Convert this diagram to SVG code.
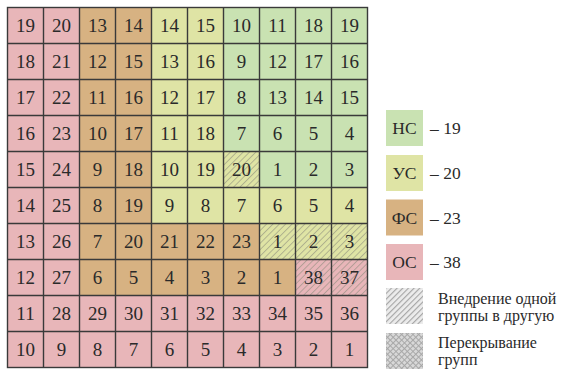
<svg xmlns="http://www.w3.org/2000/svg" width="570" height="369" viewBox="0 0 570 369">
<defs>
<style>
.o{fill:#e8b6b9}.f{fill:#d7b282}.u{fill:#dfe4a5}.n{fill:#c9e2b2}
.h{fill:url(#hatch)}
text{fill:#2a2a2a}
.c text{font-size:19px;text-anchor:middle}
.lg{font-size:17.5px}
.lc{text-anchor:middle}
.ld{font-size:16px}
</style>
<pattern id="hatch" width="4.5" height="4.5" patternUnits="userSpaceOnUse" patternTransform="rotate(45)">
<line x1="0.5" y1="0" x2="0.5" y2="4.5" stroke="#8a8a7a" stroke-width="0.8" stroke-opacity="0.7"/>
</pattern>
<pattern id="hatchL" width="4" height="4" patternUnits="userSpaceOnUse" patternTransform="rotate(45)">
<line x1="0.5" y1="0" x2="0.5" y2="4" stroke="#a5a5a5" stroke-width="1.3"/>
</pattern>
<pattern id="cross" width="4" height="4" patternUnits="userSpaceOnUse" patternTransform="rotate(45)">
<rect width="4" height="4" fill="#d8d8d8"/>
<line x1="0.5" y1="0" x2="0.5" y2="4" stroke="#a8a8a8" stroke-width="1"/>
<line x1="0" y1="0.5" x2="4" y2="0.5" stroke="#a8a8a8" stroke-width="1"/>
</pattern>
</defs>
<rect width="570" height="369" fill="#ffffff"/>
<g font-family="Liberation Serif, Times New Roman, Tinos, Noto Serif, DejaVu Serif, FreeSerif, serif">
<g class="c">
<g id="r0"><rect class="o" x="7.5" y="7.5" width="72" height="36"/><rect class="f" x="79.5" y="7.5" width="72" height="36"/><rect class="u" x="151.5" y="7.5" width="72" height="36"/><rect class="n" x="223.5" y="7.5" width="144" height="36"/>
<text x="25.5" y="32">19</text><text x="61.5" y="32">20</text><text x="97.5" y="32">13</text><text x="133.5" y="32">14</text><text x="169.5" y="32">14</text><text x="205.5" y="32">15</text><text x="241.5" y="32">10</text><text x="277.5" y="32">11</text><text x="313.5" y="32">18</text><text x="349.5" y="32">19</text></g>
<g id="r1"><rect class="o" x="7.5" y="43.5" width="72" height="36"/><rect class="f" x="79.5" y="43.5" width="72" height="36"/><rect class="u" x="151.5" y="43.5" width="72" height="36"/><rect class="n" x="223.5" y="43.5" width="144" height="36"/>
<text x="25.5" y="68">18</text><text x="61.5" y="68">21</text><text x="97.5" y="68">12</text><text x="133.5" y="68">15</text><text x="169.5" y="68">13</text><text x="205.5" y="68">16</text><text x="241.5" y="68">9</text><text x="277.5" y="68">12</text><text x="313.5" y="68">17</text><text x="349.5" y="68">16</text></g>
<g id="r2"><rect class="o" x="7.5" y="79.5" width="72" height="36"/><rect class="f" x="79.5" y="79.5" width="72" height="36"/><rect class="u" x="151.5" y="79.5" width="72" height="36"/><rect class="n" x="223.5" y="79.5" width="144" height="36"/>
<text x="25.5" y="104">17</text><text x="61.5" y="104">22</text><text x="97.5" y="104">11</text><text x="133.5" y="104">16</text><text x="169.5" y="104">12</text><text x="205.5" y="104">17</text><text x="241.5" y="104">8</text><text x="277.5" y="104">13</text><text x="313.5" y="104">14</text><text x="349.5" y="104">15</text></g>
<g id="r3"><rect class="o" x="7.5" y="115.5" width="72" height="36"/><rect class="f" x="79.5" y="115.5" width="72" height="36"/><rect class="u" x="151.5" y="115.5" width="72" height="36"/><rect class="n" x="223.5" y="115.5" width="144" height="36"/>
<text x="25.5" y="140">16</text><text x="61.5" y="140">23</text><text x="97.5" y="140">10</text><text x="133.5" y="140">17</text><text x="169.5" y="140">11</text><text x="205.5" y="140">18</text><text x="241.5" y="140">7</text><text x="277.5" y="140">6</text><text x="313.5" y="140">5</text><text x="349.5" y="140">4</text></g>
<g id="r4"><rect class="o" x="7.5" y="151.5" width="72" height="36"/><rect class="f" x="79.5" y="151.5" width="72" height="36"/><rect class="u" x="151.5" y="151.5" width="108" height="36"/><rect class="h" x="223.5" y="151.5" width="36" height="36"/><rect class="n" x="259.5" y="151.5" width="108" height="36"/>
<text x="25.5" y="176">15</text><text x="61.5" y="176">24</text><text x="97.5" y="176">9</text><text x="133.5" y="176">18</text><text x="169.5" y="176">10</text><text x="205.5" y="176">19</text><text x="241.5" y="176">20</text><text x="277.5" y="176">1</text><text x="313.5" y="176">2</text><text x="349.5" y="176">3</text></g>
<g id="r5"><rect class="o" x="7.5" y="187.5" width="72" height="36"/><rect class="f" x="79.5" y="187.5" width="72" height="36"/><rect class="u" x="151.5" y="187.5" width="216" height="36"/>
<text x="25.5" y="212">14</text><text x="61.5" y="212">25</text><text x="97.5" y="212">8</text><text x="133.5" y="212">19</text><text x="169.5" y="212">9</text><text x="205.5" y="212">8</text><text x="241.5" y="212">7</text><text x="277.5" y="212">6</text><text x="313.5" y="212">5</text><text x="349.5" y="212">4</text></g>
<g id="r6"><rect class="o" x="7.5" y="223.5" width="72" height="36"/><rect class="f" x="79.5" y="223.5" width="180" height="36"/><rect class="u" x="259.5" y="223.5" width="108" height="36"/><rect class="h" x="259.5" y="223.5" width="108" height="36"/>
<text x="25.5" y="248">13</text><text x="61.5" y="248">26</text><text x="97.5" y="248">7</text><text x="133.5" y="248">20</text><text x="169.5" y="248">21</text><text x="205.5" y="248">22</text><text x="241.5" y="248">23</text><text x="277.5" y="248">1</text><text x="313.5" y="248">2</text><text x="349.5" y="248">3</text></g>
<g id="r7"><rect class="o" x="7.5" y="259.5" width="72" height="36"/><rect class="f" x="79.5" y="259.5" width="216" height="36"/><rect class="o" x="295.5" y="259.5" width="72" height="36"/><rect class="h" x="295.5" y="259.5" width="72" height="36"/>
<text x="25.5" y="284">12</text><text x="61.5" y="284">27</text><text x="97.5" y="284">6</text><text x="133.5" y="284">5</text><text x="169.5" y="284">4</text><text x="205.5" y="284">3</text><text x="241.5" y="284">2</text><text x="277.5" y="284">1</text><text x="313.5" y="284">38</text><text x="349.5" y="284">37</text></g>
<g id="r8"><rect class="o" x="7.5" y="295.5" width="360" height="36"/>
<text x="25.5" y="320">11</text><text x="61.5" y="320">28</text><text x="97.5" y="320">29</text><text x="133.5" y="320">30</text><text x="169.5" y="320">31</text><text x="205.5" y="320">32</text><text x="241.5" y="320">33</text><text x="277.5" y="320">34</text><text x="313.5" y="320">35</text><text x="349.5" y="320">36</text></g>
<g id="r9"><rect class="o" x="7.5" y="331.5" width="360" height="36"/>
<text x="25.5" y="356">10</text><text x="61.5" y="356">9</text><text x="97.5" y="356">8</text><text x="133.5" y="356">7</text><text x="169.5" y="356">6</text><text x="205.5" y="356">5</text><text x="241.5" y="356">4</text><text x="277.5" y="356">3</text><text x="313.5" y="356">2</text><text x="349.5" y="356">1</text></g>
</g>
<g id="grid" fill="none" stroke="#3a3a3a" stroke-width="1.4">
<path d="M43.5 7.5V367.5M79.5 7.5V367.5M115.5 7.5V367.5M151.5 7.5V367.5M187.5 7.5V367.5M223.5 7.5V367.5M259.5 7.5V367.5M295.5 7.5V367.5M331.5 7.5V367.5M7.5 43.5H367.5M7.5 79.5H367.5M7.5 115.5H367.5M7.5 151.5H367.5M7.5 187.5H367.5M7.5 223.5H367.5M7.5 259.5H367.5M7.5 295.5H367.5M7.5 331.5H367.5"/>
<rect x="7.5" y="7.5" width="360" height="360"/>
</g>
<g id="legend">
<g id="lg-ns"><rect class="n" x="386" y="110" width="37" height="36"/><text class="lg lc" x="404.5" y="134">НС</text><text class="lg" x="430" y="134">– 19</text></g>
<g id="lg-us"><rect class="u" x="386" y="155" width="37" height="36"/><text class="lg lc" x="404.5" y="179">УС</text><text class="lg" x="430" y="179">– 20</text></g>
<g id="lg-fs"><rect class="f" x="386" y="199.5" width="37" height="36"/><text class="lg lc" x="404.5" y="223.5">ФС</text><text class="lg" x="430" y="223.5">– 23</text></g>
<g id="lg-os"><rect class="o" x="386" y="244" width="37" height="36"/><text class="lg lc" x="404.5" y="268">ОС</text><text class="lg" x="430" y="268">– 38</text></g>
<g id="lg-hatch"><rect x="386" y="288" width="37" height="36" fill="#ececec"/><rect x="386" y="288" width="37" height="36" fill="url(#hatchL)"/><text class="ld" x="438" y="303.5">Внедрение одной</text><text class="ld" x="438" y="320.5">группы в другую</text></g>
<g id="lg-cross"><rect x="386" y="333" width="37" height="36" fill="url(#cross)"/><text class="ld" x="438" y="348">Перекрывание</text><text class="ld" x="438" y="365">групп</text></g>
</g>
</g>
</svg>
